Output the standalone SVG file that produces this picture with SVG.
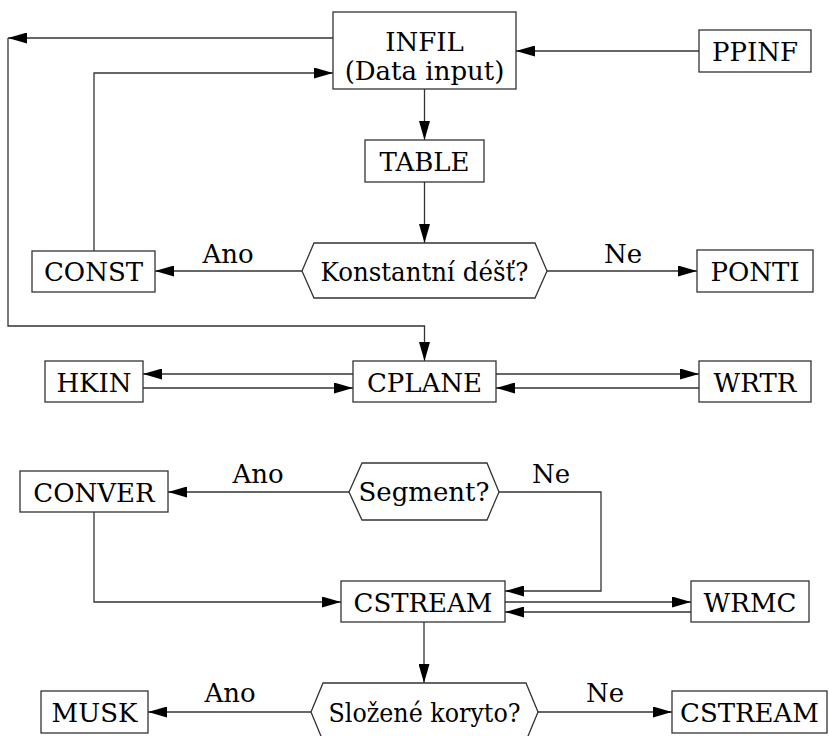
<svg xmlns="http://www.w3.org/2000/svg" width="829" height="736" viewBox="0 0 829 736">
<style>
.n{fill:#fff;stroke:#333;stroke-width:1.3}
.t{font-family:"DejaVu Serif",serif;font-size:26px;fill:#000;text-anchor:middle}
.c{fill:none;stroke:#333;stroke-width:1.3}
</style>
<defs>
<marker id="ah" markerUnits="userSpaceOnUse" markerWidth="19" markerHeight="11" refX="19" refY="5.5" orient="auto">
<path d="M0,0 L19,5.5 L0,11 z" fill="#000"/>
</marker>
</defs>
<rect width="829" height="736" fill="#fff"/>
<g id="connectors">
<path class="c" d="M333,38 H8" marker-end="url(#ah)"/>
<path class="c" d="M8,38 V326 H424.5 V361" marker-end="url(#ah)"/>
<path class="c" d="M94,251 V73 H333" marker-end="url(#ah)"/>
<path class="c" d="M699,51 H516" marker-end="url(#ah)"/>
<path class="c" d="M424.5,89 V140" marker-end="url(#ah)"/>
<path class="c" d="M424.5,182 V243" marker-end="url(#ah)"/>
<path class="c" d="M302,271 H155" marker-end="url(#ah)"/>
<text class="t" x="228" y="263">Ano</text>
<path class="c" d="M547,271 H697" marker-end="url(#ah)"/>
<text class="t" x="623" y="263">Ne</text>
<path class="c" d="M353,374 H143" marker-end="url(#ah)"/>
<path class="c" d="M143,388 H353" marker-end="url(#ah)"/>
<path class="c" d="M496,374 H699" marker-end="url(#ah)"/>
<path class="c" d="M699,388 H496" marker-end="url(#ah)"/>
<path class="c" d="M349,492 H168" marker-end="url(#ah)"/>
<text class="t" x="258" y="483">Ano</text>
<path class="c" d="M499,492 H601 V591 H505" marker-end="url(#ah)"/>
<text class="t" x="551" y="483">Ne</text>
<path class="c" d="M94,512 V602 H341" marker-end="url(#ah)"/>
<path class="c" d="M505,602 H691" marker-end="url(#ah)"/>
<path class="c" d="M691,612 H505" marker-end="url(#ah)"/>
<path class="c" d="M424,622 V683" marker-end="url(#ah)"/>
<path class="c" d="M311,712 H148" marker-end="url(#ah)"/>
<text class="t" x="230" y="702">Ano</text>
<path class="c" d="M538,712 H672" marker-end="url(#ah)"/>
<text class="t" x="605" y="702">Ne</text>
</g>
<g id="INFIL"><rect class="n" x="333" y="12" width="183" height="77"/><text class="t" x="424.5" y="51">INFIL</text><text class="t" x="424.5" y="80">(Data input)</text></g>
<g id="PPINF"><rect class="n" x="699" y="30" width="112" height="42"/><text class="t" x="755" y="61">PPINF</text></g>
<g id="TABLE"><rect class="n" x="365" y="140" width="119" height="42"/><text class="t" x="424.5" y="171">TABLE</text></g>
<g id="konst"><polygon class="n" points="302,271 314,243 535,243 547,271 535,298 314,298"/><text class="t" x="424.5" y="280.5" textLength="208" lengthAdjust="spacingAndGlyphs">Konstantní déšť?</text></g>
<g id="CONST"><rect class="n" x="32" y="251" width="123" height="41"/><text class="t" x="93.5" y="281">CONST</text></g>
<g id="PONTI"><rect class="n" x="697" y="250" width="116" height="42"/><text class="t" x="755" y="281">PONTI</text></g>
<g id="HKIN"><rect class="n" x="45" y="361" width="98" height="41"/><text class="t" x="94" y="391.5">HKIN</text></g>
<g id="CPLANE"><rect class="n" x="353" y="361" width="143" height="41"/><text class="t" x="424.5" y="391.5">CPLANE</text></g>
<g id="WRTR"><rect class="n" x="699" y="361" width="112" height="41"/><text class="t" x="755" y="391.5">WRTR</text></g>
<g id="segment"><polygon class="n" points="349,492 362,463 487,463 499,492 487,520 362,520"/><text class="t" x="424" y="501">Segment?</text></g>
<g id="CONVER"><rect class="n" x="20" y="471" width="148" height="41"/><text class="t" x="94" y="501.5">CONVER</text></g>
<g id="CSTREAM"><rect class="n" x="341" y="581" width="164" height="41"/><text class="t" x="423" y="611.5">CSTREAM</text></g>
<g id="WRMC"><rect class="n" x="691" y="581" width="118" height="41"/><text class="t" x="750" y="611.5">WRMC</text></g>
<g id="slozene"><polygon class="n" points="311,712 323,683 526,683 538,712 526,741 323,741"/><text class="t" x="424.5" y="721.5" textLength="192" lengthAdjust="spacingAndGlyphs">Složené koryto?</text></g>
<g id="MUSK"><rect class="n" x="41" y="691" width="107" height="42"/><text class="t" x="94.5" y="722">MUSK</text></g>
<g id="CSTREAM2"><rect class="n" x="672" y="691" width="155" height="42"/><text class="t" x="749.5" y="722">CSTREAM</text></g>
</svg>
